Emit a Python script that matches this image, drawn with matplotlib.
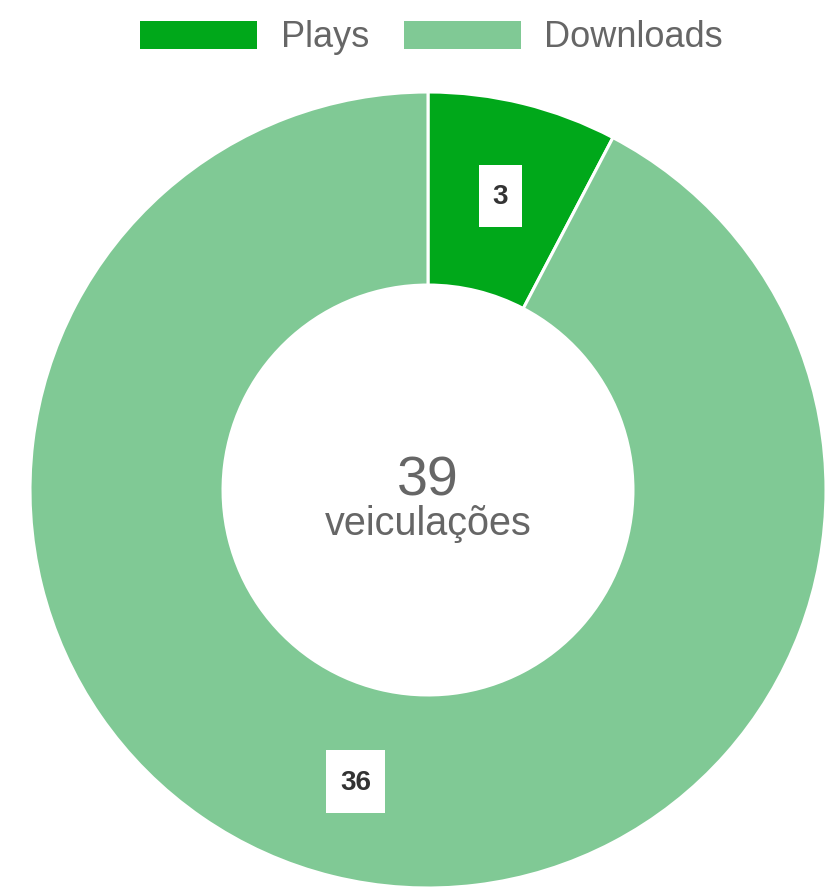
import matplotlib
matplotlib.use("Agg")
import matplotlib.pyplot as plt
from matplotlib.patches import Rectangle
from matplotlib.path import Path
import numpy as np

categories = ["Plays", "Downloads"]
values = [3, 36]
colors = ["#00a81a", "#80c995"]
center_value = "39"
center_label = "veiculações"

plt.rcParams['font.family'] = ['Liberation Sans', 'DejaVu Sans']

W, H = 827, 889
fig = plt.figure(figsize=(W / 100, H / 100), dpi=100)
cx, cy, R = 428, 490, 398
ax = fig.add_axes([(cx - R) / W, (H - cy - R) / H, 2 * R / W, 2 * R / H])

inner = 0.515
wedges, _ = ax.pie(values, colors=colors, startangle=90, counterclock=False,
                   radius=1, wedgeprops=dict(width=1 - inner, edgecolor='white', linewidth=2.2))
ax.set_xlim(-1, 1)
ax.set_ylim(-1, 1)
ax.set_aspect('equal')
ax.axis('off')


def label_box(x0, y0, width, height, mutation_size):
    padx = 0.5 * mutation_size
    h = 2.25 * mutation_size
    xc = x0 + width / 2
    yc = y0 + height / 2 + 0.05 * mutation_size
    l, r = xc - width / 2 - padx, xc + width / 2 + padx
    b, t = yc - h / 2, yc + h / 2
    return Path([(l, b), (r, b), (r, t), (l, t), (l, b)],
                [Path.MOVETO, Path.LINETO, Path.LINETO, Path.LINETO, Path.CLOSEPOLY])


total = sum(values)
start = 90.0
mid_r = (1 + inner) / 2
for v in values:
    ang = start - 360 * v / total / 2
    start -= 360 * v / total
    x = mid_r * np.cos(np.radians(ang))
    y = mid_r * np.sin(np.radians(ang))
    ax.text(x, y, str(v), ha='center', va='center', fontsize=20, fontweight='bold',
            color='#333333',
            bbox=dict(boxstyle=label_box, facecolor='white', edgecolor='none'))

ax.text(0, -5 / R, center_value, ha='center', va='baseline', fontsize=40, color='#666666')
ax.text(0, -45 / R, center_label, ha='center', va='baseline', fontsize=28.5, color='#666666')

handles = [Rectangle((0, 0), 1, 1, facecolor=c, edgecolor='none') for c in colors]
leg = fig.legend(handles, categories, loc='center', bbox_to_anchor=(431.5 / W, 1 - 37.7 / H),
                 ncol=2, frameon=False, fontsize=26, handlelength=3.24, handleheight=0.83,
                 handletextpad=0.64, columnspacing=0.97, borderpad=0, borderaxespad=0)
for t in leg.get_texts():
    t.set_color('#666666')

fig.savefig("out.png", dpi=100, facecolor='white')
